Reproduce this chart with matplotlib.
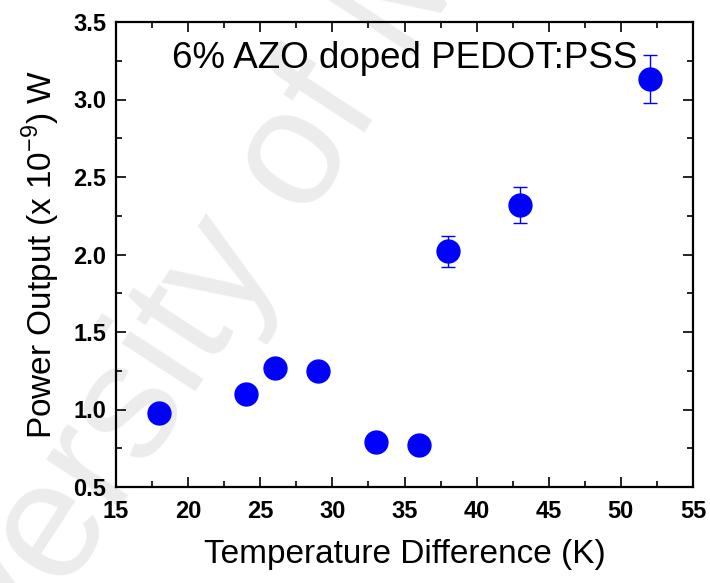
import numpy as np
import matplotlib
matplotlib.use("Agg")
from matplotlib import pyplot as plt
from matplotlib.ticker import MultipleLocator

# data
temp_diff = [18, 24, 26, 29, 33, 36, 38, 43, 52]
power = [0.98, 1.10, 1.27, 1.25, 0.79, 0.77, 2.02, 2.32, 3.13]
power_err = [0.02, 0.02, 0.02, 0.02, 0.02, 0.02, 0.10, 0.115, 0.155]

plt.rcParams['font.family'] = ['Liberation Sans', 'DejaVu Sans']
plt.rcParams['mathtext.fontset'] = 'custom'
plt.rcParams['mathtext.rm'] = 'Liberation Sans'

fig = plt.figure(figsize=(7.1, 5.83), dpi=100)
ax = fig.add_axes([116/710, 1-487/583, 577/710, 465/583])
ax.patch.set_alpha(0)

# faint watermark behind the plot
fig.text(0.36, 0.62, "University of Malaya", fontsize=120, color="#ececec",
         rotation=57, ha="center", va="center", zorder=-5)

ax.errorbar(temp_diff, power, yerr=power_err, fmt="o", color="blue",
            markersize=16.5, ecolor="blue", elinewidth=1, capsize=5,
            capthick=1, zorder=3)

ax.set_xlim(15, 55)
ax.set_ylim(0.5, 3.5)
ax.xaxis.set_major_locator(MultipleLocator(5))
ax.xaxis.set_minor_locator(MultipleLocator(2.5))
ax.yaxis.set_major_locator(MultipleLocator(0.5))
ax.yaxis.set_minor_locator(MultipleLocator(0.25))
ax.tick_params(which="both", direction="in", top=True, right=True, width=1.2)
ax.tick_params(which="major", length=7, labelsize=17)
ax.tick_params(axis="x", which="major", pad=9)
ax.tick_params(axis="y", which="major", pad=7)
ax.tick_params(which="minor", length=4)
for lab in ax.get_xticklabels() + ax.get_yticklabels():
    lab.set_fontweight("bold")
for sp in ax.spines.values():
    sp.set_linewidth(1.6)

ax.set_xlabel("Temperature Difference (K)", fontsize=24, labelpad=12)
ax.set_ylabel("Power Output (x 10$^{\\mathrm{-9}}$) W", fontsize=24, labelpad=8)
ax.text(0.5, 0.922, "6% AZO doped PEDOT:PSS", transform=ax.transAxes,
        fontsize=26.5, ha="center", va="center")

fig.savefig("out.png", dpi=100)
